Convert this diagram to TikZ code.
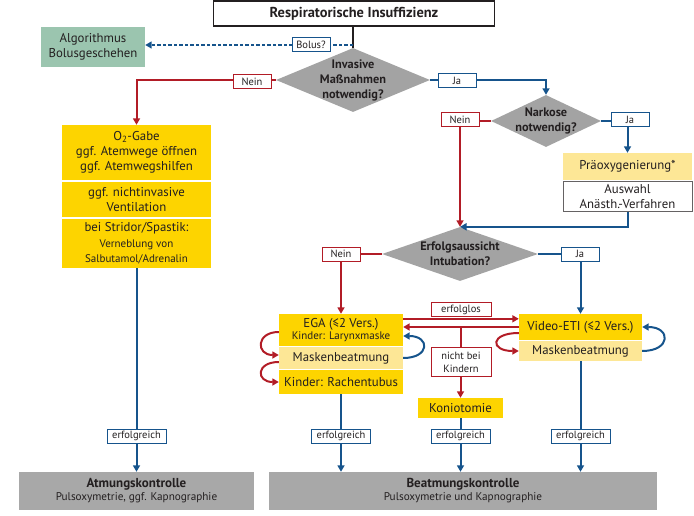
\documentclass[tikz,border=0pt]{standalone}
\usepackage{fontspec}
\setmainfont{PT Sans}
\usetikzlibrary{shapes.geometric,arrows.meta,calc}
\definecolor{yel}{RGB}{253,212,0}
\definecolor{lyel}{RGB}{253,231,150}
\definecolor{dgray}{RGB}{163,163,163}
\definecolor{bgray}{RGB}{168,168,168}
\definecolor{grn}{RGB}{155,197,175}
\definecolor{rd}{RGB}{178,28,38}
\definecolor{bl}{RGB}{22,84,140}
\definecolor{txt}{RGB}{35,31,32}
\begin{document}
\begin{tikzpicture}[x=1pt,y=-1pt,
  every node/.style={text=txt},
  tip/.style={-{Triangle[length=6.5pt,width=7pt]}},
  redl/.style={draw=rd,line width=2pt},
  bluel/.style={draw=bl,line width=2pt},
  redarr/.style={redl,tip},
  bluearr/.style={bluel,tip},
  box/.style={inner sep=0pt,align=center,font=\fontsize{12.8}{15}\selectfont},
  ybox/.style={box,fill=yel},
  lybox/.style={box,fill=lyel},
  dia/.style={diamond,fill=dgray,inner sep=0pt},
  diat/.style={box,font=\bfseries\fontsize{12.3}{15}\selectfont},
  lblr/.style={draw=rd,line width=1pt,fill=white,inner sep=0pt,minimum width=38,minimum height=14,font=\fontsize{10.5}{12}\selectfont},
  lblb/.style={lblr,draw=bl},
  ctrl/.style={box,fill=bgray,minimum height=38},
]
\useasboundingbox (0,0) rectangle (694,516);

% main nodes
\node[box,draw=txt,line width=1.2pt,minimum width=281,minimum height=25,font=\bfseries\fontsize{14.4}{15}\selectfont] (title) at (354,13.5) {Respiratorische Insuffizienz};
\node[box,fill=grn,minimum width=104,minimum height=40] (algo) at (93,47) {Algorithmus\\Bolusgeschehen};
\node[dia,minimum width=154,minimum height=64] (d1) at (353,80) {};
\node[diat] (d1t) at (353,80) {Invasive\\Maßnahmen\\notwendig?};
\node[dia,minimum width=110,minimum height=52] (d2) at (546,121) {};
\node[diat] (d2t) at (546,121) {Narkose\\notwendig?};
\node[box,fill=lyel,minimum width=129,minimum height=27] (prae) at (627.5,166.5) {Präoxygenierung*};
\node[box,draw=txt!70,line width=0.6pt,fill=white,minimum width=129,minimum height=30] (ausw) at (627.5,196.5) {Auswahl\\Anästh.-Verfahren};
\node[dia,minimum width=156,minimum height=54] (d3) at (460,254) {};
\node[diat] (d3t) at (460,254) {Erfolgsaussicht\\Intubation?};

\node[ybox,minimum width=149,minimum height=55] (o2a) at (136.5,152.5) {O\textsubscript{2}-Gabe\\ggf. Atemwege öffnen\\ggf. Atemwegshilfen};
\node[ybox,minimum width=149,minimum height=35] (o2b) at (136.5,199.5) {ggf. nichtinvasive\\Ventilation};
\node[ybox,minimum width=149,minimum height=49] (o2c) at (136.5,243.5) {bei Stridor/Spastik:\\[1pt]{\fontsize{11}{13}\selectfont Verneblung von}\\{\fontsize{11}{13}\selectfont Salbutamol/Adrenalin}};

\node[ybox,minimum width=124,minimum height=32] (ega) at (341,330) {EGA (≤2 Vers.)\\[-3pt]{\fontsize{11}{13}\selectfont Kinder: Larynxmaske}};
\node[lybox,minimum width=124,minimum height=22] (maskL) at (341,358) {Maskenbeatmung};
\node[ybox,minimum width=124,minimum height=24] (rachen) at (341,382) {Kinder: Rachentubus};
\node[ybox,minimum width=123,minimum height=26] (video) at (580.5,327) {Video-ETI (≤2 Vers.)};
\node[lybox,minimum width=123,minimum height=20] (maskR) at (580.5,351) {Maskenbeatmung};
\node[ybox,minimum width=85,minimum height=20] (konio) at (460.5,408) {Koniotomie};

\node[ctrl,minimum width=235] (atm) at (136.5,491) {{\bfseries\fontsize{13}{15}\selectfont Atmungskontrolle}\\[-2pt]{\fontsize{11.2}{12}\selectfont Pulsoxymetrie, ggf. Kapnographie}};
\node[ctrl,minimum width=388] (beat) at (463,491) {{\bfseries\fontsize{13}{15}\selectfont Beatmungskontrolle}\\[-2pt]{\fontsize{11.2}{12}\selectfont Pulsoxymetrie und Kapnographie}};

% connectors
\coordinate (bj) at (353,45);
\draw[line width=1.5pt,draw=txt] (title.south -| d1.north) -- (d1.north);
\draw[draw=bl,line width=1.6pt,dash pattern=on 3.5pt off 2pt,tip] (bj) -- (bj -| algo.east);
\draw[redarr] (d1.west) -| (o2a.north);
\draw[bluearr] (d1.east) -| (d2.north);
\draw[redarr] (d2.west) -| (d3.north);
\draw[bluearr] (d2.east) -| (prae.north);
\draw[bluearr] (ausw.south) |- (d3.north);
\draw[redarr] (d3.west) -| (ega.north);
\draw[bluearr] (d3.east) -| (video.north);
\draw[redarr] ([yshift=-5pt]ega.north east) -- ([yshift=-5pt]ega.north east -| video.west);
\draw[redarr] (video.west) -- (video.west -| ega.east);
\draw[redarr] (video.west -| konio.north) -- (konio.north);

\draw[redarr] ([yshift=-2pt]ega.west) .. controls +(-23,0) and +(-23,0) .. ([yshift=3pt]maskL.west);
\draw[redarr] ([yshift=-4pt]maskL.west) .. controls +(-23,0) and +(-23,0) .. (rachen.west);
\draw[bluearr] (maskL.east) .. controls +(27,0) and +(27,0) .. ([yshift=-6pt]ega.east);
\draw[redarr] ([yshift=-6pt]video.west) .. controls +(-29,0) and +(-29,0) .. (maskR.west);
\draw[bluearr] (maskR.east) .. controls +(29,0) and +(29,0) .. (video.east);

\draw[bluearr] (o2c.south) -- (atm.north);
\draw[bluearr] (rachen.south) -- (rachen.south |- beat.north);
\draw[bluearr] (konio.south) -- (konio.south |- beat.north);
\draw[bluearr] (maskR.south) -- (maskR.south |- beat.north);

% labels
\node[lblb] (lbolus) at (311,45) {Bolus?};
\node[lblr] (ln1) at (252,82) {Nein};
\node[lblb] (lj1) at (457,81) {Ja};
\node[lblr] (ln2) at (460,120) {Nein};
\node[lblb] (lj2) at (630,120) {Ja};
\node[lblr] (ln3) at (341,254) {Nein};
\node[lblb] (lj3) at (580,254) {Ja};
\node[lblr,minimum width=60] (lerf) at (461,309.5) {erfolglos};
\node[lblr,minimum width=60,minimum height=29,align=center,font=\fontsize{10.5}{13}\selectfont] (lnicht) at (461,362) {nicht bei\\Kindern};
\node[lblb,minimum width=59] (le1) at (136.5,436) {erfolgreich};
\node[lblb,minimum width=59] (le2) at (341,436) {erfolgreich};
\node[lblb,minimum width=59] (le3) at (460.5,436) {erfolgreich};
\node[lblb,minimum width=59] (le4) at (580.5,436) {erfolgreich};
\end{tikzpicture}
\end{document}
